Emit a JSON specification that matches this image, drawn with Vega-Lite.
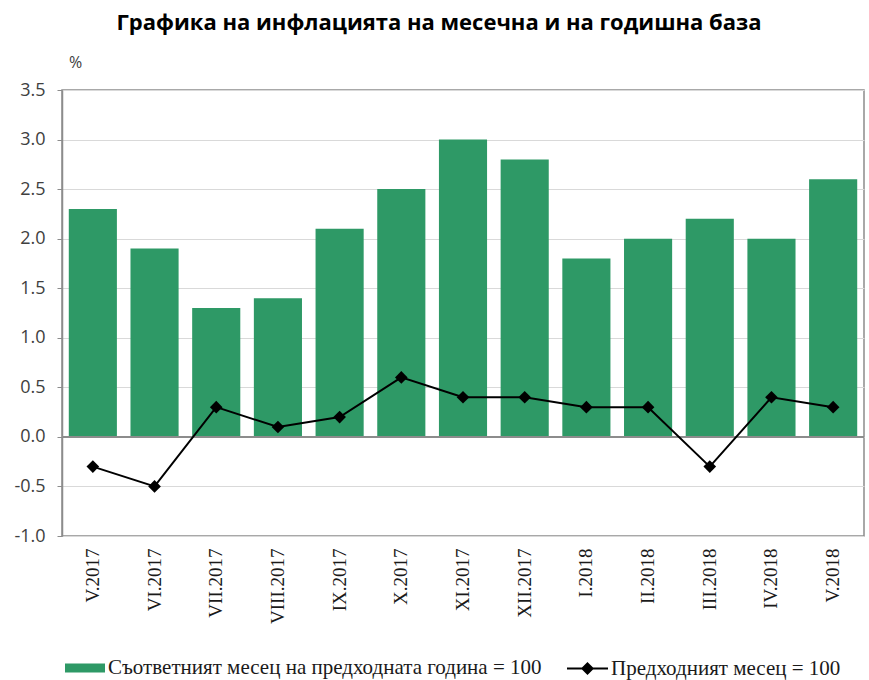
{
  "$schema": "https://vega.github.io/schema/vega-lite/v6.json",
  "autosize": {"type": "none"},
  "width": 802,
  "height": 446,
  "padding": {"left": 62, "top": 90, "right": 5, "bottom": 144},
  "background": "white",
  "title": {
    "text": "Графика на инфлацията на месечна и на годишна база",
    "font": "Open Sans",
    "fontSize": 22,
    "fontWeight": "bold",
    "color": "#000000",
    "anchor": "middle",
    "frame": "group",
    "dx": -24,
    "offset": 19
  },
  "config": {
    "view": {"stroke": "#8c8c8c", "strokeWidth": 1.5},
    "legend": {"padding": 0}
  },
  "data": {
    "values": [
      {"m": "V.2017", "annual": 2.3, "monthly": -0.3},
      {"m": "VI.2017", "annual": 1.9, "monthly": -0.5},
      {"m": "VII.2017", "annual": 1.3, "monthly": 0.3},
      {"m": "VIII.2017", "annual": 1.4, "monthly": 0.1},
      {"m": "IX.2017", "annual": 2.1, "monthly": 0.2},
      {"m": "X.2017", "annual": 2.5, "monthly": 0.6},
      {"m": "XI.2017", "annual": 3.0, "monthly": 0.4},
      {"m": "XII.2017", "annual": 2.8, "monthly": 0.4},
      {"m": "I.2018", "annual": 1.8, "monthly": 0.3},
      {"m": "II.2018", "annual": 2.0, "monthly": 0.3},
      {"m": "III.2018", "annual": 2.2, "monthly": -0.3},
      {"m": "IV.2018", "annual": 2.0, "monthly": 0.4},
      {"m": "V.2018", "annual": 2.6, "monthly": 0.3}
    ]
  },
  "layer": [
    {
      "mark": {"type": "bar"},
      "encoding": {
        "x": {
          "field": "m",
          "type": "nominal",
          "sort": null,
          "scale": {"paddingInner": 0.22, "paddingOuter": 0.11},
          "axis": {
            "title": null,
            "labelAngle": -90,
            "labelFont": "Liberation Serif",
            "labelFontSize": 19,
            "labelColor": "#1a1a1a",
            "labelPadding": 12,
            "ticks": false,
            "domain": false,
            "grid": false
          }
        },
        "y": {
          "field": "annual",
          "type": "quantitative",
          "scale": {"domain": [-1, 3.5], "nice": false, "zero": false},
          "axis": {
            "title": "%",
            "titleAngle": 0,
            "titleX": 13,
            "titleY": -28,
            "titleAlign": "center",
            "titleBaseline": "middle",
            "titleFont": "Open Sans",
            "titleFontSize": 16,
            "titleFontWeight": "normal",
            "titleColor": "#404040",
            "values": [-1, -0.5, 0, 0.5, 1, 1.5, 2, 2.5, 3, 3.5],
            "labelExpr": "replace(format(datum.value, '.1f'), '\u2212', '-')",
            "labelFont": "Open Sans",
            "labelFontSize": 18,
            "labelColor": "#404040",
            "labelPadding": 12,
            "tickSize": 5,
            "tickColor": "#8c8c8c",
            "domainColor": "#8c8c8c",
            "domainWidth": 1.5,
            "gridColor": "#d9d9d9",
            "gridWidth": 1
          }
        },
        "color": {
          "datum": "Съответният месец на предходната година = 100",
          "scale": {"range": ["#2e9966"]},
          "legend": {
            "title": null,
            "orient": "none",
            "legendX": 3,
            "legendY": 558,
            "symbolType": "M-1,-0.225H1V0.225H-1Z",
            "symbolSize": 1600,
            "symbolStrokeWidth": 0,
            "labelFont": "Liberation Serif",
            "labelFontSize": 21,
            "labelColor": "#1a1a1a",
            "labelOffset": 3,
            "labelLimit": 700
          }
        }
      }
    },
    {
      "mark": {"type": "rule", "color": "#8c8c8c", "strokeWidth": 1.5},
      "encoding": {"y": {"datum": 0}}
    },
    {
      "mark": {"type": "line", "strokeWidth": 2},
      "encoding": {
        "x": {"field": "m", "type": "nominal", "sort": null},
        "y": {"field": "monthly", "type": "quantitative"},
        "stroke": {
          "datum": "Предходният месец = 100",
          "scale": {"range": ["#000000"]},
          "legend": {
            "title": null,
            "orient": "none",
            "legendX": 504,
            "legendY": 557,
            "symbolType": "M-1,0H1M0,-0.25L0.25,0L0,0.25L-0.25,0Z",
            "symbolSize": 1681,
            "symbolFillColor": "#000000",
            "symbolStrokeWidth": 2,
            "labelFont": "Liberation Serif",
            "labelFontSize": 21,
            "labelColor": "#1a1a1a",
            "labelOffset": 2,
            "labelLimit": 700
          }
        }
      }
    },
    {
      "mark": {"type": "point", "shape": "diamond", "filled": true, "color": "#000000", "size": 160, "opacity": 1},
      "encoding": {
        "x": {"field": "m", "type": "nominal", "sort": null},
        "y": {"field": "monthly", "type": "quantitative"}
      }
    }
  ]
}
